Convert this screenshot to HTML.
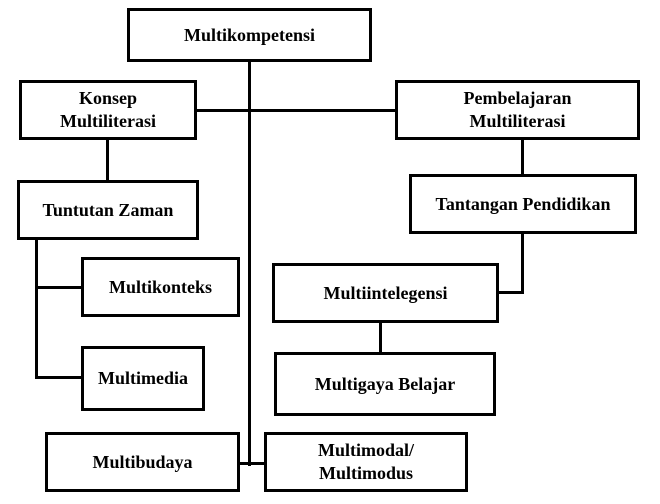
<!DOCTYPE html>
<html><head><style>
body{margin:0;width:660px;height:504px;background:#fff;position:relative;overflow:hidden;font-family:"Liberation Serif",serif;font-weight:bold;font-size:18px;color:#000}
.b{position:absolute;box-sizing:border-box;border:3px solid #000;background:#fff;display:flex;align-items:center;justify-content:center;text-align:center;line-height:23px}
.l{position:absolute;background:#000}
</style></head><body>
<div class="l" style="left:248px;top:62px;width:3px;height:404px"></div>
<div class="l" style="left:197px;top:109px;width:198px;height:3px"></div>
<div class="l" style="left:106px;top:140px;width:3px;height:40px"></div>
<div class="l" style="left:35px;top:240px;width:3px;height:138px"></div>
<div class="l" style="left:35px;top:286px;width:46px;height:3px"></div>
<div class="l" style="left:35px;top:376px;width:46px;height:3px"></div>
<div class="l" style="left:521px;top:140px;width:3px;height:34px"></div>
<div class="l" style="left:521px;top:234px;width:3px;height:59px"></div>
<div class="l" style="left:499px;top:291px;width:25px;height:3px"></div>
<div class="l" style="left:379px;top:323px;width:3px;height:29px"></div>
<div class="l" style="left:240px;top:462px;width:24px;height:3px"></div>
<div class="b" style="left:127px;top:8px;width:245px;height:54px">Multikompetensi</div>
<div class="b" style="left:19px;top:80px;width:178px;height:60px">Konsep<br>Multiliterasi</div>
<div class="b" style="left:395px;top:80px;width:245px;height:60px">Pembelajaran<br>Multiliterasi</div>
<div class="b" style="left:17px;top:180px;width:182px;height:60px">Tuntutan Zaman</div>
<div class="b" style="left:409px;top:174px;width:228px;height:60px">Tantangan Pendidikan</div>
<div class="b" style="left:81px;top:257px;width:159px;height:60px">Multikonteks</div>
<div class="b" style="left:272px;top:263px;width:227px;height:60px">Multiintelegensi</div>
<div class="b" style="left:81px;top:346px;width:124px;height:65px">Multimedia</div>
<div class="b" style="left:274px;top:352px;width:222px;height:64px">Multigaya Belajar</div>
<div class="b" style="left:45px;top:432px;width:195px;height:60px">Multibudaya</div>
<div class="b" style="left:264px;top:432px;width:204px;height:60px">Multimodal/<br>Multimodus</div>
</body></html>
